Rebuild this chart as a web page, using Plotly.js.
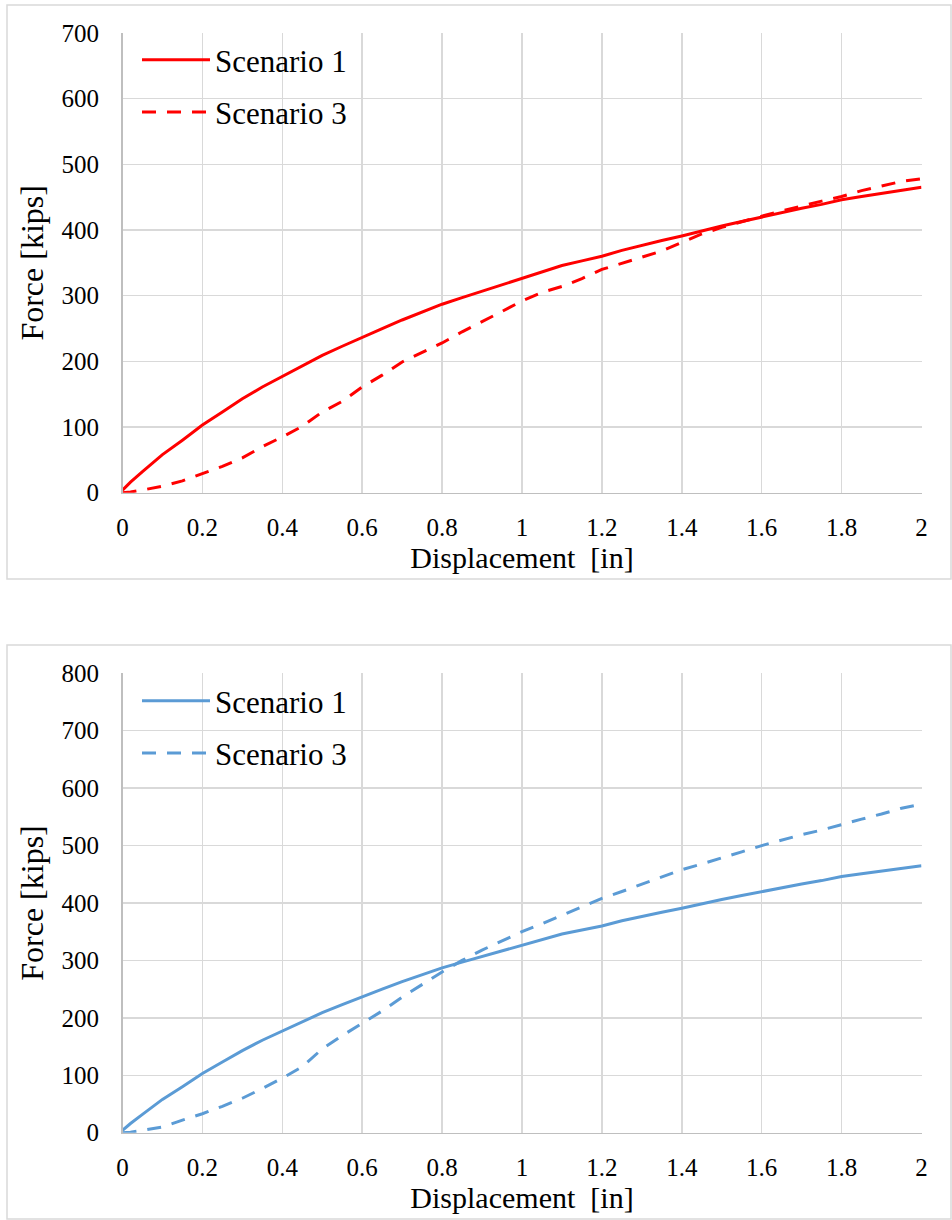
<!DOCTYPE html>
<html>
<head>
<meta charset="utf-8">
<script src="https://cdn.plot.ly/plotly-3.0.1.min.js"></script>
<style>
html, body { margin: 0; padding: 0; background: #ffffff; }
#chart { width: 952px; height: 1220px; }
</style>
</head>
<body>
<div id="chart"></div>
<script>
// Displacement [in]
const disp = [0, 0.02, 0.05, 0.1, 0.15, 0.2, 0.25, 0.3, 0.35, 0.4, 0.45, 0.5, 0.55, 0.6, 0.65, 0.7, 0.75, 0.8, 0.85, 0.9, 0.95, 1.0, 1.05, 1.1, 1.15, 1.2, 1.25, 1.3, 1.35, 1.4, 1.45, 1.5, 1.55, 1.6, 1.65, 1.7, 1.75, 1.8, 1.85, 1.9, 1.95, 2.0];
// Force [kips] - Scenario 1 (same in both charts)
const scenario1 = [4, 16, 32, 58, 80, 103, 123, 143, 161, 177, 193, 209, 223, 237, 250, 263, 275, 287, 297, 307, 317, 327, 337, 346, 353, 360, 369, 377, 384, 391, 399, 406, 413, 420, 427, 433, 439, 446, 451, 456, 461, 465];
// Force [kips] - Scenario 3, top chart (red)
const scenario3Top = [0, 1, 4, 10, 18, 29, 40, 53, 70, 85, 101, 123, 139, 161, 179, 199, 214, 228, 245, 260, 276, 292, 305, 314, 326, 340, 349, 358, 368, 381, 394, 404, 413, 421, 429, 437, 444, 451, 460, 467, 474, 478];
// Force [kips] - Scenario 3, bottom chart (blue)
const scenario3Bottom = [0, 1, 4, 10, 22, 33, 46, 60, 77, 95, 115, 146, 169, 190, 212, 236, 258, 280, 300, 318, 334, 350, 364, 379, 394, 408, 420, 433, 446, 458, 468, 478, 489, 500, 510, 519, 527, 537, 546, 555, 565, 572];

const seriesNames = ["Scenario 1", "Scenario 3"];
const xTitle = "Displacement  [in]";
const yTitle = "Force [kips]";

const RED = "#FF0000";
const BLUE = "#5B9BD5";
const GRID = "#D9D9D9";
const FONT = "Liberation Serif, Times New Roman, serif";
const W = 952, H = 1220;

function px(x) { return x / W; }
function py(y) { return (H - y) / H; }

const traces = [
  { x: disp, y: scenario1, name: seriesNames[0], xaxis: "x", yaxis: "y", mode: "lines",
    line: { color: RED, width: 3 }, legend: "legend", legendgroup: "a" },
  { x: disp, y: scenario3Top, name: seriesNames[1], xaxis: "x", yaxis: "y", mode: "lines",
    line: { color: RED, width: 3, dash: "14px,11px" }, legend: "legend", legendgroup: "b" },
  { x: disp, y: scenario1, name: seriesNames[0], xaxis: "x2", yaxis: "y2", mode: "lines",
    line: { color: BLUE, width: 3 }, legend: "legend2", legendgroup: "c" },
  { x: disp, y: scenario3Bottom, name: seriesNames[1], xaxis: "x2", yaxis: "y2", mode: "lines",
    line: { color: BLUE, width: 3, dash: "14px,11px" }, legend: "legend2", legendgroup: "d" }
];

const xDom = [px(122.5), px(921.5)];

function xAxis(anchor) {
  return {
    domain: xDom, range: [0, 2], dtick: 0.2, tick0: 0, anchor: anchor,
    showgrid: true, gridcolor: GRID, gridwidth: 1.5,
    showline: true, linecolor: "#BFBFBF", linewidth: 1.5,
    zeroline: false, ticks: "", ticklabelstandoff: 12,
    tickfont: { family: FONT, size: 25, color: "#000" },
    automargin: false, fixedrange: true,
    title: { text: xTitle, font: { family: FONT, size: 30, color: "#000" }, standoff: 0 }
  };
}
function yAxis(anchor, dom, maxv) {
  return {
    domain: dom, range: [0, maxv], dtick: 100, tick0: 0, anchor: anchor,
    showgrid: true, gridcolor: GRID, gridwidth: 1.5,
    showline: true, linecolor: "#BFBFBF", linewidth: 1.5,
    zeroline: false, ticks: "", ticklabelstandoff: 17,
    tickfont: { family: FONT, size: 25, color: "#000" },
    automargin: false, fixedrange: true,
    title: { text: yTitle, font: { family: FONT, size: 32, color: "#000" }, standoff: 8 }
  };
}

const legendStyle = {
  font: { family: FONT, size: 31, color: "#000" },
  bgcolor: "rgba(0,0,0,0)", borderwidth: 0,
  xanchor: "left", yanchor: "top", traceorder: "grouped", tracegroupgap: 9,
  itemwidth: 68
};

const layout = {
  width: W, height: H,
  margin: { l: 0, r: 0, t: 0, b: 0, pad: 0 },
  paper_bgcolor: "#ffffff", plot_bgcolor: "#ffffff",
  showlegend: true,
  xaxis: xAxis("y"),
  yaxis: yAxis("x", [py(492.7), py(33)], 700),
  xaxis2: xAxis("y2"),
  yaxis2: yAxis("x2", [py(1132.7), py(673.3)], 800),
  legend: Object.assign({}, legendStyle, { x: px(137), y: py(33) }),
  legend2: Object.assign({}, legendStyle, { x: px(137), y: py(674) }),
  shapes: [
    { type: "rect", xref: "paper", yref: "paper", x0: px(7), x1: px(951), y0: py(579), y1: py(5),
      line: { color: GRID, width: 1.5 }, fillcolor: "rgba(0,0,0,0)", layer: "below" },
    { type: "rect", xref: "paper", yref: "paper", x0: px(7), x1: px(951), y0: py(1219), y1: py(645),
      line: { color: GRID, width: 1.5 }, fillcolor: "rgba(0,0,0,0)", layer: "below" }
  ]
};

Plotly.newPlot("chart", traces, layout, { displayModeBar: false, staticPlot: true });
</script>
</body>
</html>
